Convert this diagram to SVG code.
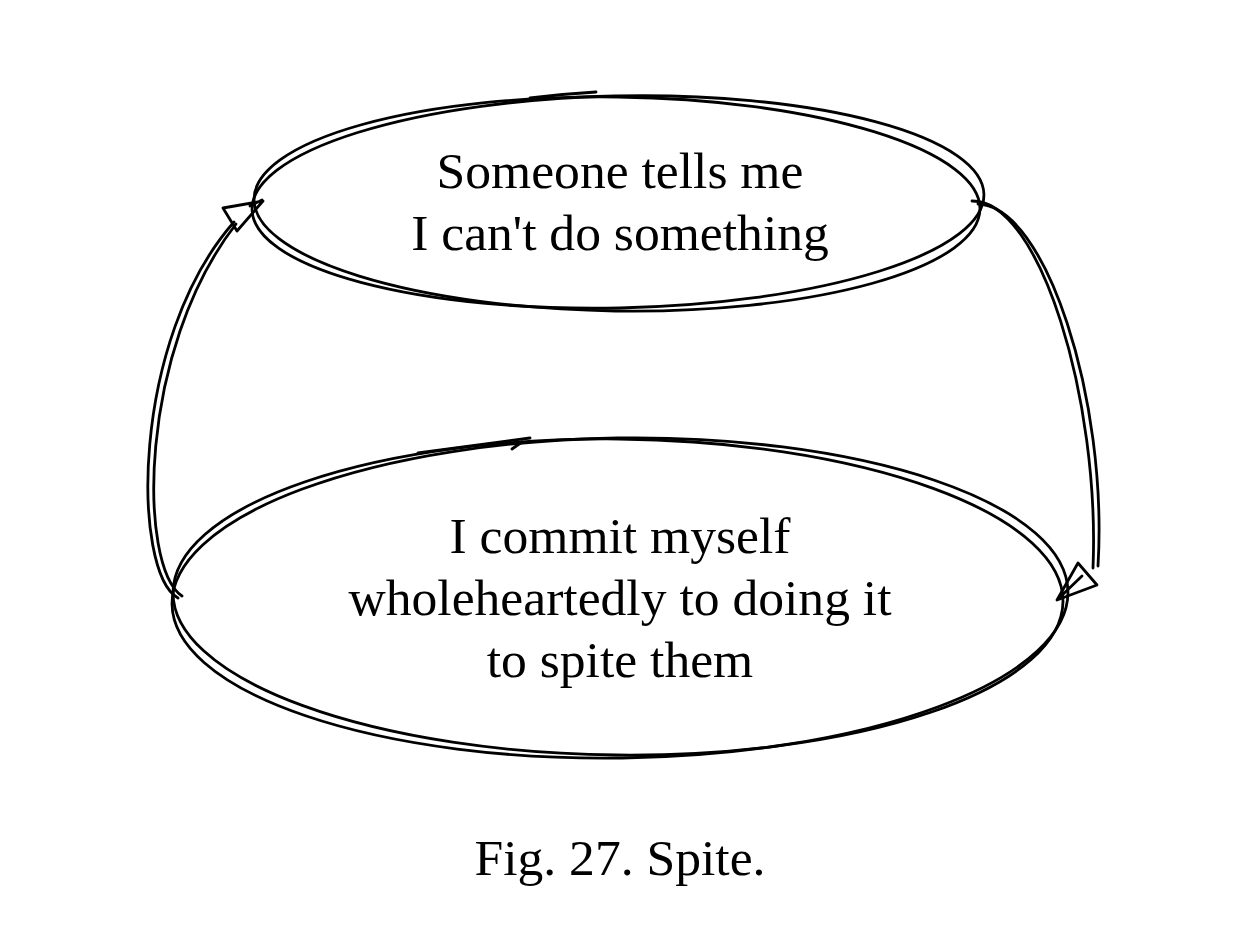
<svg xmlns="http://www.w3.org/2000/svg" width="1260" height="938" viewBox="0 0 1260 938">
<style>
.s{fill:none;stroke:#000;stroke-width:2.8;stroke-linecap:round;stroke-linejoin:round}
.t{font-family:"Liberation Serif","Times New Roman",serif;font-size:51.6px;fill:#000;text-anchor:middle}
</style>
<rect width="1260" height="938" fill="#fff"/>
<g id="node-top">
<ellipse class="s" cx="618" cy="202" rx="366" ry="106" transform="rotate(-1.2 618 202)"/>
<ellipse class="s" cx="617" cy="204" rx="363" ry="107" transform="rotate(0.8 617 204)"/>
<path class="s" d="M530 98 Q562 94 596 92"/>
<text class="t" x="620" y="188">Someone tells me</text>
<text class="t" x="620" y="250">I can't do something</text>
</g>
<g id="node-bottom">
<ellipse class="s" cx="620" cy="598" rx="448" ry="160" transform="rotate(-0.8 620 598)"/>
<ellipse class="s" cx="618" cy="597" rx="445" ry="158" transform="rotate(0.6 618 597)"/>
<path class="s" d="M418 453 L530 438 M512 449 L522 442"/>
<text class="t" x="620" y="553">I commit myself</text>
<text class="t" x="620" y="615">wholeheartedly to doing it</text>
<text class="t" x="620" y="677">to spite them</text>
</g>
<g id="connectors">
<path class="s" d="M178 598 C132 572 130 340 234 222"/>
<path class="s" d="M182 596 C138 566 138 350 236 224"/>
<path class="s" d="M263 201 L223 208 L237 231 Z M250 206 L262 200"/>
<path class="s" d="M972 201 C1040 200 1100 400 1093 568"/>
<path class="s" d="M978 204 C1046 206 1108 400 1098 566"/>
<path class="s" d="M1057 600 L1078 563 L1097 585 Z M1057 600 L1082 576"/>
</g>
<g id="caption">
<text class="t" x="620" y="875">Fig. 27. Spite.</text>
</g>
</svg>
